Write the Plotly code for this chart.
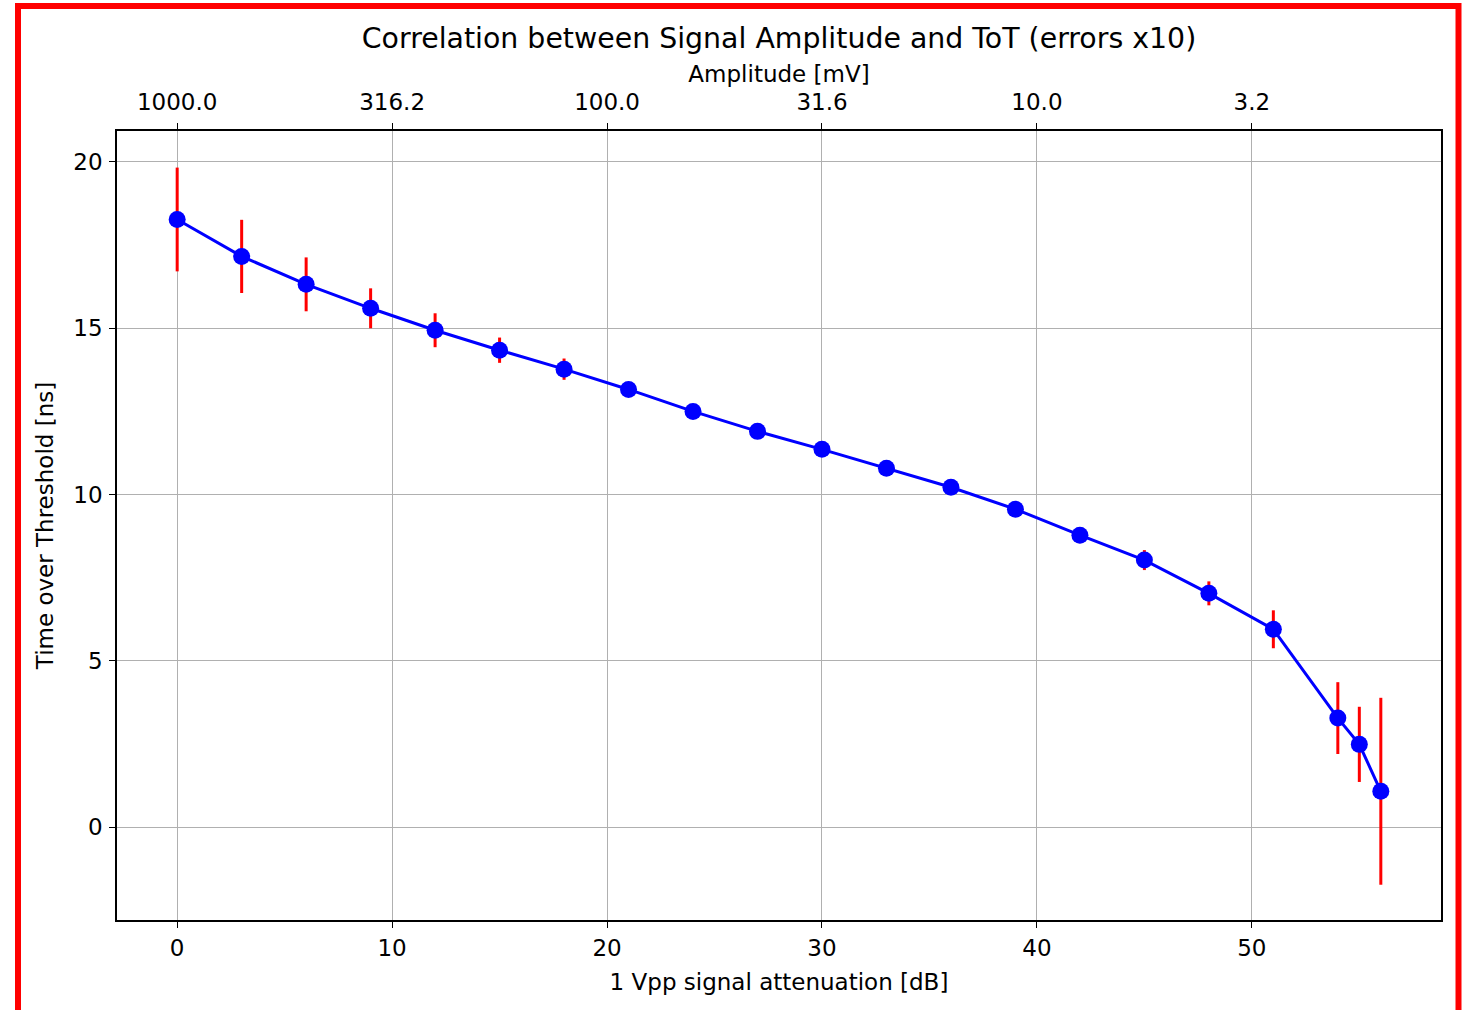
import plotly.graph_objects as go

# ---- data ----
attenuation_db = [0, 3, 6, 9, 12, 15, 18, 21, 24, 27, 30, 33, 36, 39, 42, 45, 48, 51, 54, 55, 56]
tot_ns = [18.27, 17.16, 16.32, 15.60, 14.94, 14.34, 13.77, 13.16, 12.50, 11.90, 11.36,
          10.79, 10.22, 9.56, 8.78, 8.03, 7.03, 5.95, 3.28, 2.49, 1.08]
tot_err_ns = [0.156, 0.110, 0.081, 0.060, 0.051, 0.038, 0.032, 0.022, 0.022, 0.018, 0.018,
              0.018, 0.018, 0.020, 0.024, 0.030, 0.036, 0.057, 0.108, 0.113, 0.281]
ERR_SCALE = 10

bottom_tick_vals = [0, 10, 20, 30, 40, 50]
bottom_tick_text = ["0", "10", "20", "30", "40", "50"]
top_tick_text = ["1000.0", "316.2", "100.0", "31.6", "10.0", "3.2"]
y_tick_vals = [0, 5, 10, 15, 20]

title_text = "Correlation between Signal Amplitude and ToT (errors x10)"
x_label = "1 Vpp signal attenuation [dB]"
x2_label = "Amplitude [mV]"
y_label = "Time over Threshold [ns]"

# ---- figure geometry ----
W, H = 1463, 1010
L, R, T, B = 117, 1441, 131, 920
FONT = "DejaVu Sans"
TICK_SIZE = 23
LABEL_SIZE = 23
TITLE_SIZE = 28.4

x_range = [-2.8, 58.8]
y_range = [-2.79, 20.93]

err_disp = [e * ERR_SCALE for e in tot_err_ns]

fig = go.Figure()
fig.add_trace(go.Scatter(
    x=attenuation_db, y=tot_ns, mode="markers",
    marker=dict(size=1, color="rgba(0,0,0,0)"),
    error_y=dict(type="data", array=err_disp, color="#ff0000", thickness=3, width=0),
    hoverinfo="skip", showlegend=False,
))
fig.add_trace(go.Scatter(
    x=attenuation_db, y=tot_ns, mode="lines+markers",
    line=dict(color="#0000ff", width=3),
    marker=dict(color="#0000ff", size=17),
    showlegend=False,
))
# invisible trace to carry the top axis
fig.add_trace(go.Scatter(
    x=attenuation_db, y=tot_ns, xaxis="x2", mode="markers",
    marker=dict(size=1, color="rgba(0,0,0,0)"), hoverinfo="skip", showlegend=False,
))

axis_common = dict(
    showline=True, linecolor="black", linewidth=1.5,
    ticks="outside", ticklen=6, tickwidth=1.3, tickcolor="black",
    tickfont=dict(family=FONT, size=TICK_SIZE, color="black"),
    zeroline=False,
)

fig.update_layout(
    width=W, height=H,
    margin=dict(l=L, r=W - R, t=T, b=H - B),
    paper_bgcolor="white", plot_bgcolor="white",
    font=dict(family=FONT, color="black"),
    title=dict(text=title_text, x=(L + R) / 2 / W, xanchor="center",
               y=1 - 38 / H, yanchor="middle",
               font=dict(family=FONT, size=TITLE_SIZE, color="black")),
    xaxis=dict(range=x_range, tickvals=bottom_tick_vals, ticktext=bottom_tick_text,
               showgrid=True, gridcolor="#b0b0b0", gridwidth=1.3, mirror=True,
               ticklabelstandoff=1,
               title=dict(text=x_label, font=dict(family=FONT, size=LABEL_SIZE, color="black"), standoff=14),
               **axis_common),
    xaxis2=dict(range=x_range, overlaying="x", side="top", anchor="y",
                tickvals=bottom_tick_vals, ticktext=top_tick_text, showgrid=False,
                ticklabelstandoff=4,
                title=dict(text=x2_label, font=dict(family=FONT, size=LABEL_SIZE, color="black"), standoff=0),
                **axis_common),
    yaxis=dict(range=y_range, tickvals=y_tick_vals, showgrid=True, gridcolor="#b0b0b0",
               gridwidth=1.3, mirror=True, ticklabelstandoff=2,
               title=dict(text=y_label, font=dict(family=FONT, size=LABEL_SIZE, color="black"), standoff=13),
               **axis_common),
)

# red frame of the screenshot
def px_x(p):
    return (p - L) / (R - L)

def px_y(p):
    return (B - p) / (B - T)

fig.add_shape(type="rect", xref="paper", yref="paper",
              x0=px_x(18), x1=px_x(1458.5), y0=px_y(6), y1=px_y(1030),
              line=dict(color="#ff0000", width=6), fillcolor="rgba(0,0,0,0)", layer="above")

fig.write_html("out.html", config={"displayModeBar": False},
               post_script="document.body.style.margin='0';")
